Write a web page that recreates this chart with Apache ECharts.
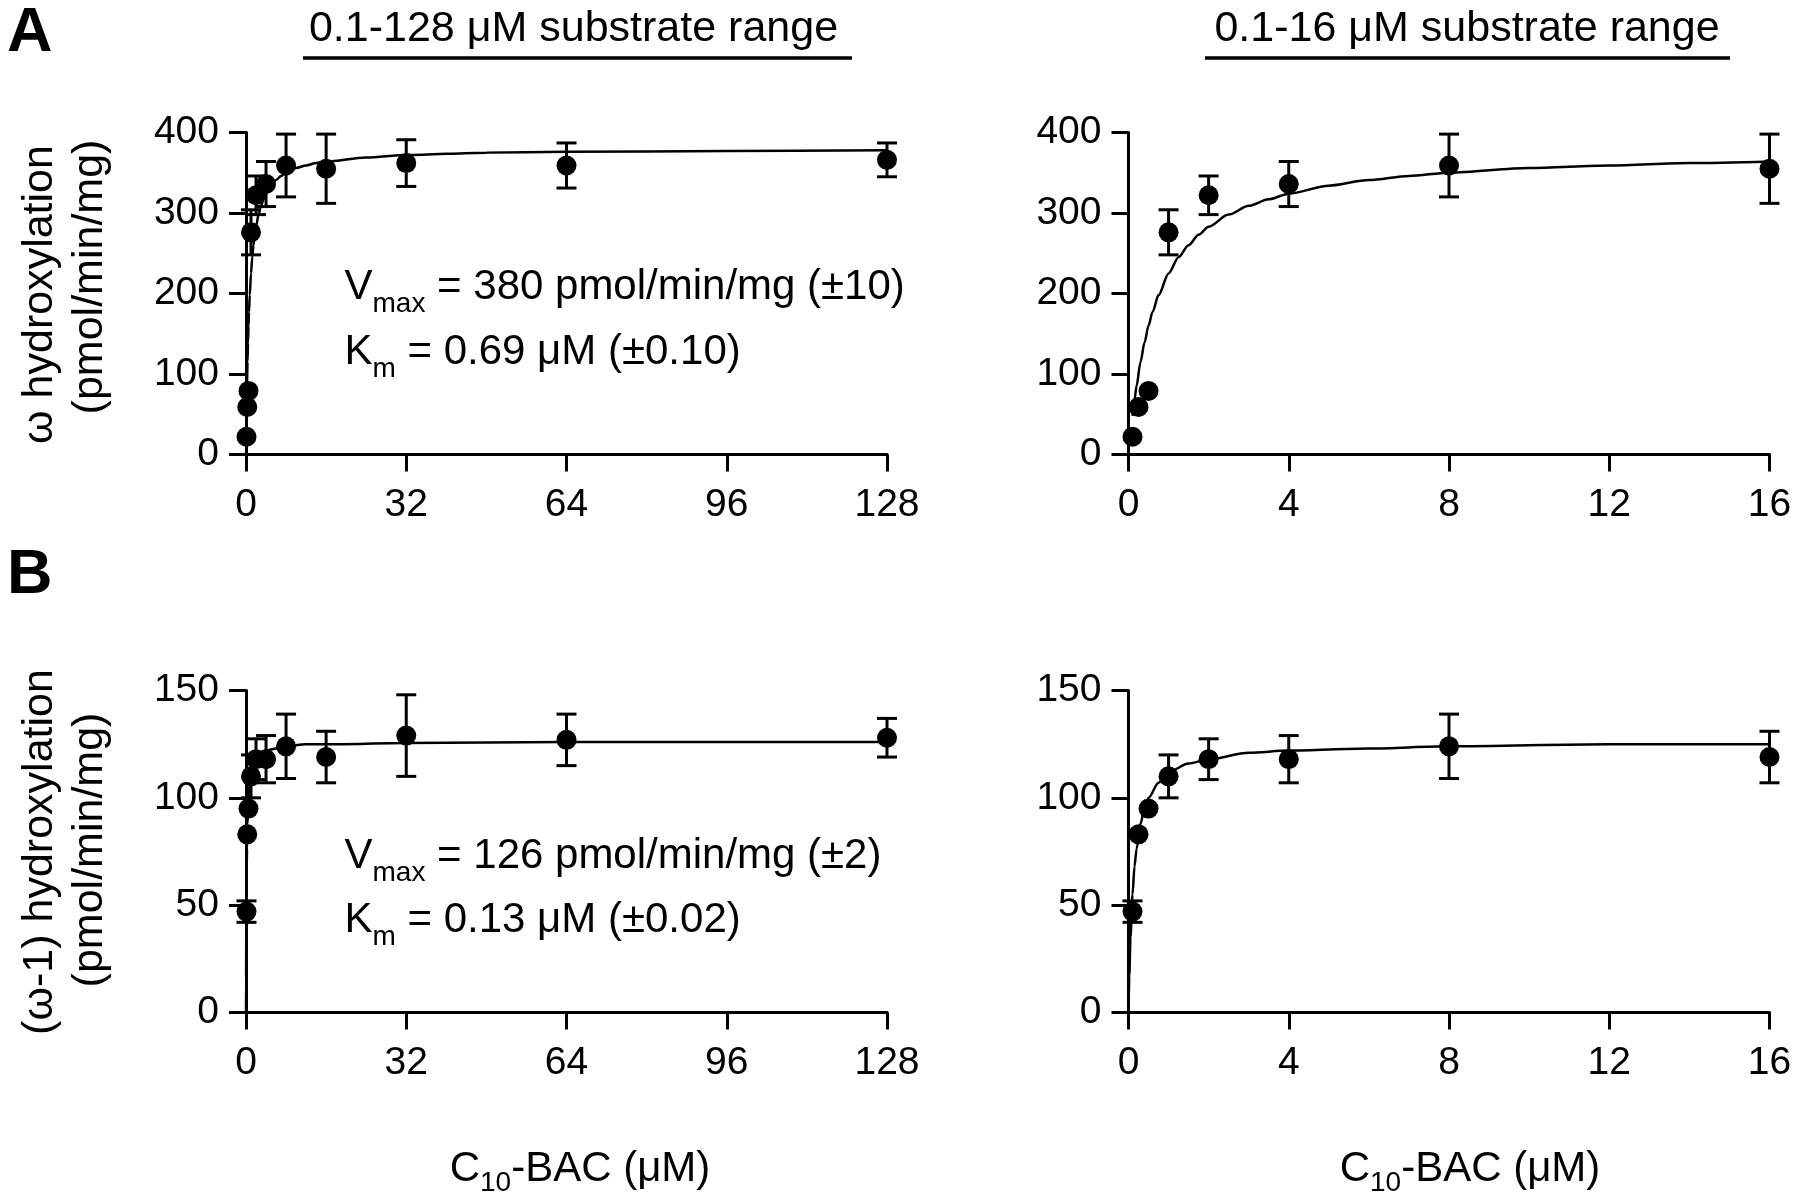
<!DOCTYPE html>
<html>
<head>
<meta charset="utf-8">
<script src="https://cdn.jsdelivr.net/npm/echarts@6/dist/echarts.min.js"></script>
<style>
html,body{margin:0;padding:0;background:#fff;}
#chart{width:1800px;height:1199px;}
</style>
</head>
<body>
<div id="chart"></div>
<script>
// ---- data ----
const substrate = [0.1, 0.25, 0.5, 1, 2, 4, 8, 16, 32, 64, 128];
const omegaRate = [22, 59, 79, 276, 322, 336, 359, 355, 362, 359, 366];
const omegaErr  = [0, 0, 0, 28, 24, 28, 39, 43, 29, 28, 21];
const omega1Rate = [47, 83, 95, 110, 118, 118, 124, 119, 129, 127, 128];
const omega1Err  = [5, 0, 0, 10, 9.5, 11, 15, 12, 19, 12, 9];

// fitted curves
const fitOmegaX = [0.1, 0.15, 0.2, 0.3, 0.4, 0.5, 0.6, 0.75, 1, 1.25, 1.5, 1.75, 2, 2.5, 3, 3.5, 4, 5, 6, 7, 8, 10, 12, 14, 16, 24, 32, 48, 64, 96, 128];
const fitOmegaY = [48, 68, 85, 115, 139, 160, 177, 198, 225, 245, 260, 273, 283, 298, 309, 317, 324, 334, 341, 346, 350, 356, 359, 362, 364, 369, 372, 375, 376, 377, 378];
const fitOmega1X = [0, 0.02, 0.05, 0.1, 0.15, 0.2, 0.3, 0.4, 0.5, 0.75, 1, 1.5, 2, 3, 4, 6, 8, 12, 16, 32, 64, 128];
const fitOmega1Y = [0, 17, 35, 55, 68, 76, 88, 95, 100, 107, 112, 116, 118, 121, 122, 123, 124, 125, 125, 125.5, 126, 126];

const xTicksWide = [0, 32, 64, 96, 128];
const xTicksNarrow = [0, 4, 8, 12, 16];
const yTicksOmega = [0, 100, 200, 300, 400];
const yTicksOmega1 = [0, 50, 100, 150];

// ---- helpers ----
const FONT = '"Liberation Sans", Arial, Helvetica, sans-serif';
function pairs(xs, ys, maxX) {
  const out = [];
  for (let i = 0; i < xs.length; i++) if (xs[i] <= maxX) out.push([xs[i], ys[i]]);
  return out;
}
function triples(xs, ys, es, maxX) {
  const out = [];
  for (let i = 0; i < xs.length; i++) if (xs[i] <= maxX) out.push([xs[i], ys[i], es[i]]);
  return out;
}
function errRender(params, api) {
  const x = api.value(0), y = api.value(1), e = api.value(2);
  if (!(e > 0)) return null;
  const t = api.coord([x, y + e]), b = api.coord([x, y - e]);
  const hw = 10;
  const st = {stroke: '#000', lineWidth: 3};
  return {type: 'group', children: [
    {type: 'line', shape: {x1: t[0], y1: t[1], x2: b[0], y2: b[1]}, style: st},
    {type: 'line', shape: {x1: t[0] - hw, y1: t[1], x2: t[0] + hw, y2: t[1]}, style: st},
    {type: 'line', shape: {x1: b[0] - hw, y1: b[1], x2: b[0] + hw, y2: b[1]}, style: st}
  ]};
}

const grids = [
  {left: 246, top: 132.5, width: 641, height: 322},
  {left: 1128.5, top: 132.5, width: 641, height: 322},
  {left: 246, top: 690.5, width: 641, height: 322},
  {left: 1128.5, top: 690.5, width: 641, height: 322}
];
const axLine = {show: true, onZero: true, lineStyle: {color: '#000', width: 3}};
const axTick = {show: true, inside: false, length: 17, lineStyle: {color: '#000', width: 3}};
function xAx(gi, ticks) {
  const step = ticks[1] - ticks[0];
  return {type: 'value', gridIndex: gi, min: ticks[0], max: ticks[ticks.length - 1], interval: step,
    axisLine: axLine, axisTick: axTick, splitLine: {show: false},
    axisLabel: {color: '#000', fontSize: 39, fontFamily: FONT, margin: 31}};
}
function yAx(gi, ticks) {
  const step = ticks[1] - ticks[0];
  return {type: 'value', gridIndex: gi, min: ticks[0], max: ticks[ticks.length - 1], interval: step,
    axisLine: axLine, axisTick: axTick, splitLine: {show: false},
    axisLabel: {color: '#000', fontSize: 39, fontFamily: FONT, margin: 27}};
}

const panels = [
  {rate: omegaRate, err: omegaErr, fx: fitOmegaX, fy: fitOmegaY, maxX: 128},
  {rate: omegaRate, err: omegaErr, fx: fitOmegaX, fy: fitOmegaY, maxX: 16},
  {rate: omega1Rate, err: omega1Err, fx: fitOmega1X, fy: fitOmega1Y, maxX: 128},
  {rate: omega1Rate, err: omega1Err, fx: fitOmega1X, fy: fitOmega1Y, maxX: 16}
];
const series = [];
panels.forEach((p, i) => {
  series.push({type: 'line', xAxisIndex: i, yAxisIndex: i, data: pairs(p.fx, p.fy, p.maxX),
    symbol: 'none', smooth: 0.3, smoothMonotone: 'x',
    lineStyle: {color: '#000', width: 2.5}, clip: true, z: 2, silent: true});
  series.push({type: 'custom', xAxisIndex: i, yAxisIndex: i, data: triples(substrate, p.rate, p.err, p.maxX),
    renderItem: errRender, encode: {x: 0, y: 1}, z: 3, silent: true});
  series.push({type: 'scatter', xAxisIndex: i, yAxisIndex: i, data: pairs(substrate, p.rate, p.maxX),
    symbol: 'circle', symbolSize: 20, itemStyle: {color: '#000', opacity: 1}, z: 4, silent: true});
});

// text measuring for composite (subscript) labels
const mctx = document.createElement('canvas').getContext('2d');
function measure(text, size) { mctx.font = size + 'px ' + FONT; return mctx.measureText(text).width; }
function tEl(x, y, text, size, extra) {
  return {type: 'text', x: x, y: y, silent: true,
    style: Object.assign({text: text, fontSize: size, fontFamily: FONT, fill: '#000',
      align: 'left', verticalAlign: 'middle', textAlign: 'left', textVerticalAlign: 'middle'}, extra || {})};
}
const MAIN = 42, SUB = 28;
// parts: array of [text, isSub]; baseline in px; anchor: 'left' or 'center'
function composite(x, baseline, parts, anchor, subDrop) {
  const widths = parts.map(p => measure(p[0], p[1] ? SUB : MAIN));
  const total = widths.reduce((a, b) => a + b, 0);
  let cx = anchor === 'center' ? x - total / 2 : x;
  const els = [];
  parts.forEach((p, i) => {
    const size = p[1] ? SUB : MAIN;
    const yb = p[1] ? baseline + subDrop : baseline;
    els.push(tEl(cx, yb - 0.31 * size, p[0], size));
    cx += widths[i];
  });
  return els;
}
function rotTxt(x, y, text) {
  return {type: 'text', x: x, y: y, rotation: Math.PI / 2, silent: true,
    style: {text: text, fontSize: 43, fontFamily: FONT, fill: '#000', align: 'center', textAlign: 'center',
      verticalAlign: 'middle', textVerticalAlign: 'middle'}};
}

const graphic = [
  tEl(7, 34, 'A', 63, {fontWeight: 'bold'}),
  tEl(7, 576, 'B', 63, {fontWeight: 'bold'}),
  tEl(573.5, 29, '0.1-128 \u03bcM substrate range', 43, {align: 'center', textAlign: 'center'}),
  tEl(1467, 29, '0.1-16 \u03bcM substrate range', 43, {align: 'center', textAlign: 'center'}),
  {type: 'line', silent: true, shape: {x1: 303, y1: 58, x2: 852, y2: 58}, style: {stroke: '#000', lineWidth: 3.3}},
  {type: 'line', silent: true, shape: {x1: 1205, y1: 58, x2: 1730, y2: 58}, style: {stroke: '#000', lineWidth: 3.3}},
  rotTxt(40, 294.5, '\u03c9 hydroxylation'),
  rotTxt(90, 277, '(pmol/min/mg)'),
  rotTxt(40, 852, '(\u03c9-1) hydroxylation'),
  rotTxt(90, 850, '(pmol/min/mg)')
].concat(
  composite(344.5, 300, [['V', 0], ['max', 1], [' = 380 pmol/min/mg (\u00b110)', 0]], 'left', 13),
  composite(344.5, 365, [['K', 0], ['m', 1], [' = 0.69 \u03bcM (\u00b10.10)', 0]], 'left', 13),
  composite(344.5, 869, [['V', 0], ['max', 1], [' = 126 pmol/min/mg (\u00b12)', 0]], 'left', 13),
  composite(344.5, 933, [['K', 0], ['m', 1], [' = 0.13 \u03bcM (\u00b10.02)', 0]], 'left', 13),
  composite(580, 1182, [['C', 0], ['10', 1], ['-BAC (\u03bcM)', 0]], 'center', 10),
  composite(1470, 1182, [['C', 0], ['10', 1], ['-BAC (\u03bcM)', 0]], 'center', 10)
);

const chart = echarts.init(document.getElementById('chart'), null, {renderer: 'canvas'});
chart.setOption({
  animation: false,
  backgroundColor: '#fff',
  grid: grids,
  xAxis: [xAx(0, xTicksWide), xAx(1, xTicksNarrow), xAx(2, xTicksWide), xAx(3, xTicksNarrow)],
  yAxis: [yAx(0, yTicksOmega), yAx(1, yTicksOmega), yAx(2, yTicksOmega1), yAx(3, yTicksOmega1)],
  series: series,
  graphic: graphic
});
</script>
</body>
</html>
